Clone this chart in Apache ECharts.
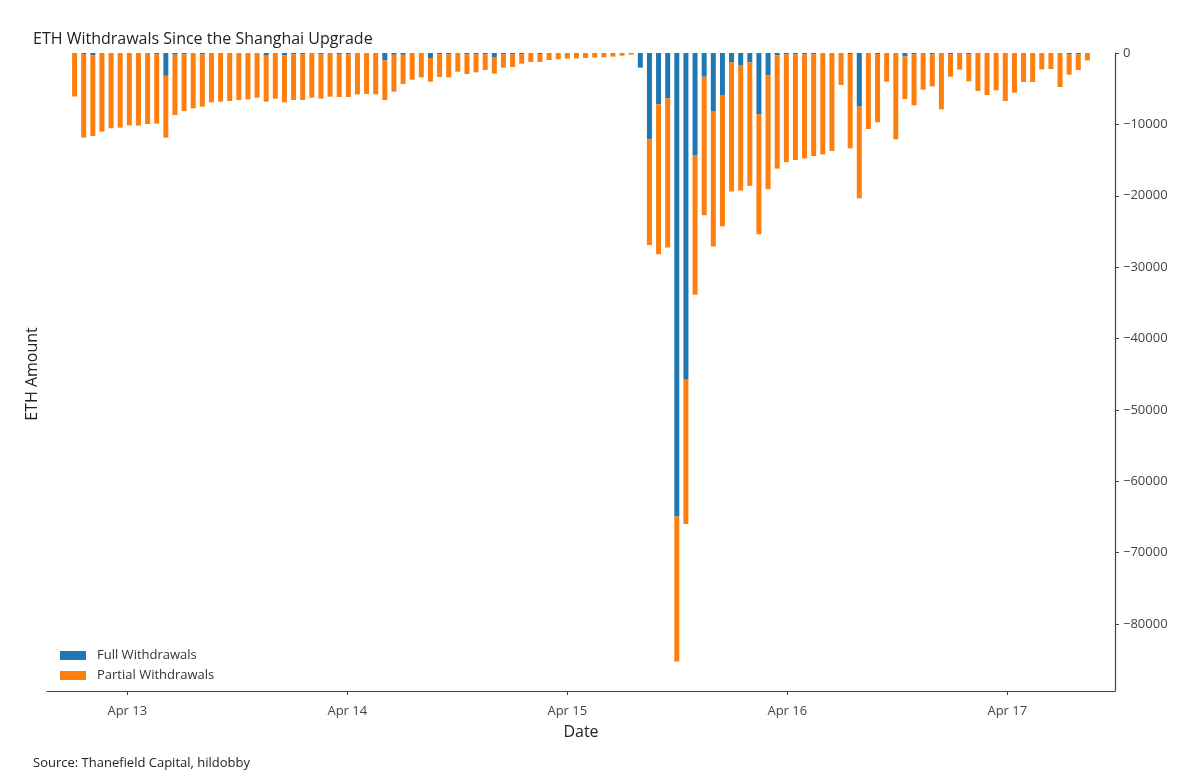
<!DOCTYPE html>
<html>
<head>
<meta charset="utf-8">
<script src="https://cdn.jsdelivr.net/npm/echarts@6/dist/echarts.min.js"></script>
<style>html,body{margin:0;padding:0;background:#fff}#c{width:1200px;height:784px}</style>
</head>
<body>
<div id="c"></div>
<script>
// Hourly buckets starting Apr 12 2023 18:00
const firstHour = Date.UTC(2023, 3, 12, 18);
const HOUR = 3600 * 1000;
const dayTicks = [0, 24, 48, 72, 96];            // hours after Apr 13 00:00
const dayLabels = ['Apr 13', 'Apr 14', 'Apr 15', 'Apr 16', 'Apr 17'];
const yTickMin = -80000;
const yTickStep = 10000;

const fullWithdrawals = [
  0, -150, -330, 0, 0, 0, 0, 0, 0, -200,
  -3200, -250, -200, 0, -200, 0, 0, 0, 0, 0,
  0, -370, 0, -330, -200, -200, 0, -200, 0, -200,
  -200, 0, 0, 0, -1030, -250, -250, 0, 0, -700,
  -200, -200, 0, -200, -200, -200, -560, -200, -200, -150,
  0, -150, 0, 0, 0, 0, 0, 0, 0, 0,
  0, 0, -2050, -12100, -7190, -6350, -64960, -45800, -14380, -3320,
  -8220, -5880, -1310, -1680, -1310, -8600, -3080, -330, -200, -200,
  -200, -200, 0, 0, 0, -150, -7520, 0, -150, 0,
  0, -470, -200, 0, -200, 0, -200, 0, -200, 0,
  0, 0, 0, 0, 0, 0, 0, 0, 0, -200,
  -200, 0
];
const partialWithdrawals = [
  -6100, -11710, -11300, -11020, -10550, -10460, -10140, -10180, -9950, -9700,
  -8660, -8440, -7930, -7750, -7320, -6910, -6820, -6730, -6590, -6500,
  -6260, -6450, -6400, -6580, -6390, -6390, -6260, -6200, -6120, -5970,
  -5970, -5790, -5740, -5790, -5560, -5170, -4090, -3740, -3410, -3320,
  -3160, -3210, -2620, -2740, -2510, -2180, -2330, -1850, -1760, -1340,
  -1260, -1110, -980, -890, -790, -750, -700, -650, -610, -510,
  -370, -230, -30, -14800, -21000, -20900, -20300, -20200, -19500, -19400,
  -18900, -18400, -18100, -17600, -17300, -16800, -16000, -15870, -15100, -14800,
  -14560, -14230, -14200, -13730, -4480, -13210, -12840, -10650, -9560, -4020,
  -12100, -5980, -7130, -5140, -4470, -7890, -3120, -2330, -3770, -5320,
  -5880, -5230, -6730, -5560, -4060, -4060, -2290, -2240, -4760, -2830,
  -2180, -1030
];

const times = fullWithdrawals.map((_, i) => firstHour + i * HOUR);
const fullData = times.map((t, i) => [t, fullWithdrawals[i]]);
const partialData = times.map((t, i) => [t, partialWithdrawals[i]]);

const apr13 = Date.UTC(2023, 3, 13, 0);
const FONT = 'Open Sans';
const AX = '#444';
const chart = echarts.init(document.getElementById('c'), null, {renderer: 'canvas'});
chart.setOption({
  animation: false,
  backgroundColor: '#fff',
  textStyle: {fontFamily: FONT},
  title: {
    text: 'ETH Withdrawals Since the Shanghai Upgrade',
    left: 28, top: 26,
    textStyle: {fontFamily: FONT, fontSize: 16, fontWeight: 'normal', color: '#222'}
  },
  legend: {
    orient: 'vertical', left: 55, top: 644,
    itemWidth: 26, itemHeight: 9, itemGap: 7,
    icon: 'rect',
    textStyle: {fontFamily: FONT, fontSize: 13, color: '#333', padding: [0, 0, 0, 6]},
    data: ['Full Withdrawals', 'Partial Withdrawals']
  },
  grid: [
    {left: 47, right: 85, top: 53, bottom: 93},               // data + spines
    {left: 127.3, right: 192.7, top: 53, bottom: 93},         // day ticks
    {left: 47, right: 85, top: 53, bottom: 160}               // value ticks
  ],
  xAxis: [
    {
      gridIndex: 0, type: 'time',
      min: apr13 - 8.75 * HOUR, max: apr13 + 107.75 * HOUR,
      name: 'Date', nameLocation: 'middle', nameGap: 33,
      nameTextStyle: {fontFamily: FONT, fontSize: 16, color: '#222'},
      axisLine: {show: true, onZero: false, lineStyle: {color: AX, width: 1.2}},
      axisTick: {show: false}, axisLabel: {show: false}, splitLine: {show: false}
    },
    {
      gridIndex: 1, type: 'value', min: dayTicks[0], max: dayTicks[dayTicks.length - 1], interval: 24,
      axisLine: {show: false, onZero: false},
      axisTick: {show: true, length: 4, lineStyle: {color: AX}},
      axisLabel: {margin: 14, fontFamily: FONT, fontSize: 13, color: AX,
        formatter: v => dayLabels[dayTicks.indexOf(v)] || ''},
      splitLine: {show: false}
    },
    {gridIndex: 2, type: 'value', show: false, min: 0, max: 1, axisLine: {onZero: false}}
  ],
  yAxis: [
    {
      gridIndex: 0, type: 'value', position: 'right', min: -89400, max: 0,
      axisLine: {show: true, onZero: false, lineStyle: {color: AX, width: 1.2}},
      axisTick: {show: false}, axisLabel: {show: false}, splitLine: {show: false}
    },
    {gridIndex: 1, type: 'value', show: false, min: 0, max: 1, axisLine: {onZero: false}},
    {
      gridIndex: 2, type: 'value', position: 'right', min: yTickMin, max: 0, interval: yTickStep,
      axisLine: {show: false, onZero: false},
      axisTick: {show: true, length: 4, lineStyle: {color: AX}},
      axisLabel: {margin: 8, fontFamily: FONT, fontSize: 13, color: AX,
        formatter: v => String(v).replace('-', '\u2212')},
      splitLine: {show: false}
    }
  ],
  graphic: [
    {type: 'text', x: 32, y: 374, rotation: Math.PI / 2,
     style: {text: 'ETH Amount', fontFamily: FONT, fontSize: 16, fill: '#222', align: 'center', verticalAlign: 'middle'}},
    {type: 'text', x: 33, y: 763,
     style: {text: 'Source: Thanefield Capital, hildobby', fontFamily: FONT, fontSize: 13, fill: '#222', verticalAlign: 'middle'}}
  ],
  series: [
    {name: 'Full Withdrawals', type: 'bar', stack: 'w', barWidth: 5,
     xAxisIndex: 0, yAxisIndex: 0,
     itemStyle: {color: '#1f77b4'}, data: fullData},
    {name: 'Partial Withdrawals', type: 'bar', stack: 'w', barWidth: 5,
     xAxisIndex: 0, yAxisIndex: 0,
     itemStyle: {color: '#ff7f0e'}, data: partialData}
  ]
});
</script>
</body>
</html>
